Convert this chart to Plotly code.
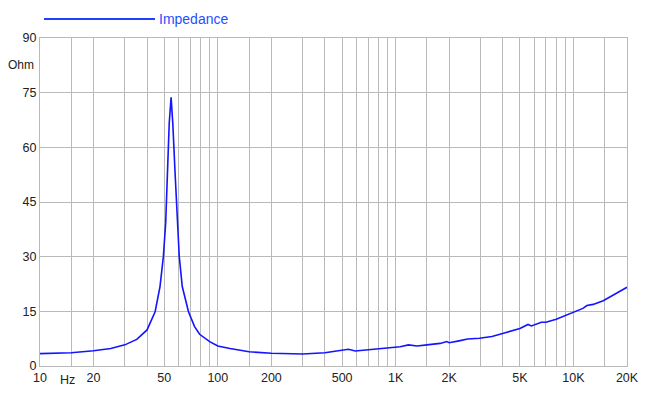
import plotly.graph_objects as go
import math

freq = [10, 15, 20, 25, 30, 35, 40, 44.4, 47.3, 49.4, 50.9, 52.2, 53.3, 54.6, 55.8, 57.5, 59.1,
        60.7, 63.1, 68.4, 74, 79, 90, 100, 117, 150, 200, 300, 400, 487, 542, 593, 700, 890,
        1060, 1180, 1320, 1500, 1780, 1940, 2000, 2270, 2540, 2960, 3270, 3480, 4040, 5000,
        5550, 5800, 6600, 7000, 8000, 9900, 11300, 11900, 12900, 14700, 20000]
ohm = [3.4, 3.65, 4.2, 4.8, 5.8, 7.3, 9.9, 14.9, 21.8, 30.0, 39.2, 52.9, 66.7, 73.7, 66.7, 52.9, 39.2,
       30.0, 21.8, 14.9, 10.8, 8.7, 6.7, 5.5, 4.8, 3.9, 3.5, 3.3, 3.65, 4.2, 4.6, 4.1, 4.4, 4.85,
       5.3, 5.8, 5.5, 5.8, 6.2, 6.7, 6.4, 6.9, 7.4, 7.6, 8.0, 8.1, 9.0, 10.3,
       11.4, 11.0, 12.0, 12.0, 12.8, 14.6, 15.8, 16.6, 16.9, 17.9, 21.6]

grid_freqs = [10, 15, 20, 30, 40, 50, 60, 70, 80, 90, 100, 150, 200, 300, 400, 500, 600, 700, 800,
              900, 1000, 1500, 2000, 3000, 4000, 5000, 6000, 7000, 8000, 9000, 10000, 15000, 20000]
label_map = {10: "10", 20: "20", 50: "50", 100: "100", 200: "200", 500: "500", 1000: "1K",
             2000: "2K", 5000: "5K", 10000: "10K", 20000: "20K"}
y_ticks = [0, 15, 30, 45, 60, 75, 90]

GRID = "#b9b9b9"
FONT = "Liberation Sans, Arial, Helvetica, sans-serif"

# page body has an 8px margin; place plot area at x 40..627, y 38..366 in the window
W, H = 642, 391
L, T = 32, 30
PW, PH = 587, 328
R = W - L - PW
B = H - T - PH

def px(xw):
    return (xw - 8 - L) / PW

def py(yw):
    return (H - B - (yw - 8)) / PH

fig = go.Figure()
fig.add_trace(go.Scatter(x=freq, y=ohm, mode="lines", name="Impedance",
                         line=dict(color="#1414ff", width=1.6), showlegend=False))

fig.update_layout(
    width=W, height=H,
    margin=dict(l=L, r=R, t=T, b=B, autoexpand=False),
    paper_bgcolor="white", plot_bgcolor="white",
    font=dict(family=FONT, size=13, color="#222"),
    xaxis=dict(type="log", range=[1, math.log10(20000)],
               tickvals=grid_freqs,
               ticktext=[label_map.get(f, "") for f in grid_freqs],
               showgrid=True, gridcolor=GRID, gridwidth=1,
               showline=True, linecolor=GRID, mirror=True,
               ticks="", tickfont=dict(size=12.5, color="#222"), zeroline=False,
               automargin=False),
    yaxis=dict(range=[0, 90], tickvals=y_ticks,
               showgrid=True, gridcolor=GRID, gridwidth=1,
               showline=True, linecolor=GRID, mirror=True,
               ticks="", tickfont=dict(size=12.5, color="#222"), zeroline=False,
               automargin=False),
    shapes=[dict(type="line", xref="paper", yref="paper",
                 x0=px(44), x1=px(155), y0=py(19), y1=py(19),
                 line=dict(color="#1f3fff", width=2))],
    annotations=[
        dict(text="Impedance", xref="paper", yref="paper", x=px(157), y=py(19),
             xanchor="left", yanchor="middle", showarrow=False,
             font=dict(size=14, color="#1f4fff", family=FONT)),
        dict(text="Ohm", xref="paper", yref="y", x=px(35), y=82.5,
             xanchor="right", yanchor="middle", showarrow=False, borderpad=0,
             font=dict(size=12, color="#222", family=FONT)),
        dict(text="Hz", xref="paper", yref="paper", x=px(67), y=py(371),
             xanchor="center", yanchor="top", showarrow=False,
             font=dict(size=12.5, color="#222", family=FONT)),
    ],
)

fig.write_html("out.html")
